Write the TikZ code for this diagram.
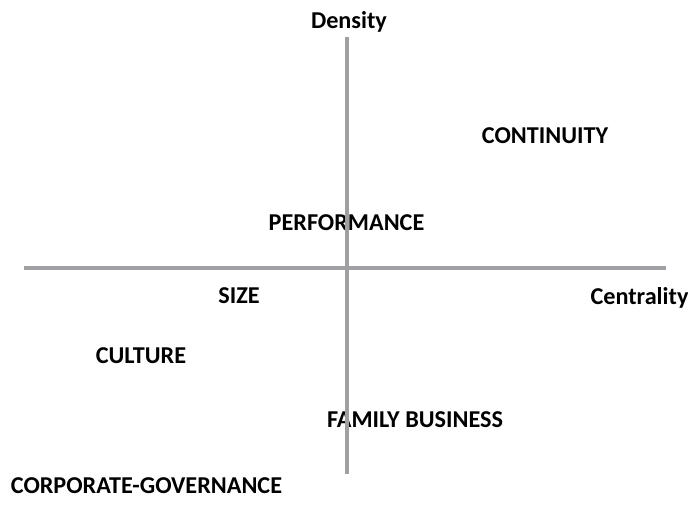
\documentclass[tikz,border=0pt]{standalone}
\usepackage{fontspec}
\setmainfont{Carlito}
\definecolor{axisgray}{RGB}{160,160,164}
\begin{document}
\begin{tikzpicture}[x=1pt,y=-1pt,
  axis/.style={draw=axisgray,line width=4pt},
  lbl/.style={anchor=base,inner sep=0pt,font=\fontsize{24.2}{28}\selectfont\bfseries}]
\useasboundingbox (0,0) rectangle (688,506);
% axis titles
\node[lbl] (density) at (349,28) {Density};
\node[lbl] (centrality) at (639.5,304) {Centrality};
% themes
\node[lbl] (continuity) at (545,143.5) {CONTINUITY};
\node[lbl] (performance) at (346.5,230) {PERFORMANCE};
\node[lbl] (size) at (239,303.5) {SIZE};
\node[lbl] (culture) at (141,363.5) {CULTURE};
\node[lbl] (family) at (415,427.5) {FAMILY BUSINESS};
\node[lbl] (governance) at (146.5,493.5) {CORPORATE-GOVERNANCE};
% axes, drawn over the labels
\coordinate (ytop) at (347,37);
\coordinate (ybot) at (347,474);
\coordinate (xleft) at (24,268);
\coordinate (xright) at (666,268);
\draw[axis] (ytop) -- (ybot);
\draw[axis] (xleft) -- (xright);
\end{tikzpicture}
\end{document}
